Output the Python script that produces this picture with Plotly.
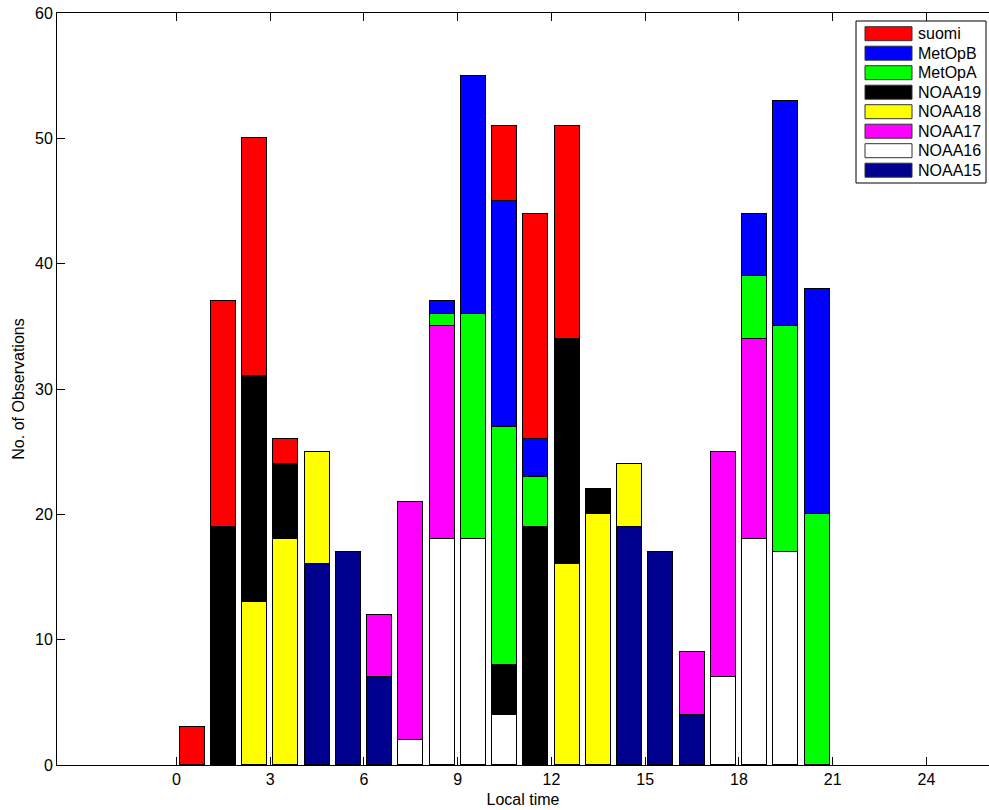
import plotly.graph_objects as go

# Local-time bin centres (hours)
local_time = [0.5, 1.5, 2.5, 3.5, 4.5, 5.5, 6.5, 7.5, 8.5, 9.5, 10.5,
              11.5, 12.5, 13.5, 14.5, 15.5, 16.5, 17.5, 18.5, 19.5, 20.5]

# Series (bottom of stack first)
noaa15 = [0, 0, 0, 0, 16, 17, 7, 0, 0, 0, 0, 0, 0, 0, 19, 17, 4, 0, 0, 0, 0]
noaa16 = [0, 0, 0, 0, 0, 0, 0, 2, 18, 18, 4, 0, 0, 0, 0, 0, 0, 7, 18, 17, 0]
noaa17 = [0, 0, 0, 0, 0, 0, 5, 19, 17, 0, 0, 0, 0, 0, 0, 0, 5, 18, 16, 0, 0]
noaa18 = [0, 0, 13, 18, 9, 0, 0, 0, 0, 0, 0, 0, 16, 20, 5, 0, 0, 0, 0, 0, 0]
noaa19 = [0, 19, 18, 6, 0, 0, 0, 0, 0, 0, 4, 19, 18, 2, 0, 0, 0, 0, 0, 0, 0]
metopa = [0, 0, 0, 0, 0, 0, 0, 0, 1, 18, 19, 4, 0, 0, 0, 0, 0, 0, 5, 18, 20]
metopb = [0, 0, 0, 0, 0, 0, 0, 0, 1, 19, 18, 3, 0, 0, 0, 0, 0, 0, 5, 18, 18]
suomi = [3, 18, 19, 2, 0, 0, 0, 0, 0, 0, 6, 18, 17, 0, 0, 0, 0, 0, 0, 0, 0]

series_names = ["NOAA15", "NOAA16", "NOAA17", "NOAA18", "NOAA19", "MetOpA", "MetOpB", "suomi"]
series_values = [noaa15, noaa16, noaa17, noaa18, noaa19, metopa, metopb, suomi]
series_colors = ["#00008F", "#FFFFFF", "#FF00FF", "#FFFF00", "#000000", "#00FF00", "#0000FF", "#FF0000"]

x_ticks = [0, 3, 6, 9, 12, 15, 18, 21, 24]
y_ticks = [0, 10, 20, 30, 40, 50, 60]

FONT = "Liberation Sans, Arial, Helvetica, sans-serif"
FS = 16
W, H = 989, 810
ML, MR, MT, MB = 57, 0, 13, 45

fig = go.Figure()
for name, vals, col in zip(series_names, series_values, series_colors):
    fig.add_trace(go.Bar(
        x=local_time,
        y=[v if v else None for v in vals],
        name=name,
        width=0.8,
        marker=dict(color=col, line=dict(color="black", width=1)),
        showlegend=False,
    ))

# Manual MATLAB-style legend (pixel -> paper helpers)
pw, ph = W - ML - MR, H - MT - MB
def px(xp):
    return (xp - ML) / pw
def py(yp):
    return 1 - (yp - MT) / ph

LX = 856
fig.add_shape(type="rect", xref="paper", yref="paper",
              x0=px(LX), x1=px(LX + 130), y0=py(183), y1=py(21),
              line=dict(color="black", width=1), fillcolor="white", layer="above")
row0, step = 33.7, 19.5
legend_order = list(range(len(series_names)))[::-1]
for i, k in enumerate(legend_order):
    cy = row0 + i * step
    fig.add_shape(type="rect", xref="paper", yref="paper",
                  x0=px(LX + 9), x1=px(LX + 56), y0=py(cy + 7), y1=py(cy - 7),
                  line=dict(color="#333333", width=1), fillcolor=series_colors[k], layer="above")
    fig.add_annotation(xref="paper", yref="paper", x=px(LX + 60), y=py(cy),
                       text=series_names[k], showarrow=False, xanchor="left", yanchor="middle",
                       font=dict(family=FONT, size=FS, color="black"))

fig.update_layout(
    width=W, height=H,
    barmode="stack",
    bargap=0,
    plot_bgcolor="white", paper_bgcolor="white",
    margin=dict(l=ML, r=MR, t=MT, b=MB, pad=0, autoexpand=False),
    font=dict(family=FONT, size=FS, color="black"),
    showlegend=False,
)
fig.update_xaxes(
    range=[-3.82, 26.0], tickvals=x_ticks, ticktext=[str(t) for t in x_ticks],
    ticks="inside", ticklen=8, tickcolor="black", tickwidth=1,
    showline=True, linecolor="black", linewidth=1, mirror="ticks",
    showgrid=False, zeroline=False, automargin=False,
    title=dict(text="Local time", font=dict(family=FONT, size=FS), standoff=6),
    tickfont=dict(family=FONT, size=FS),
)
fig.update_yaxes(
    range=[0, 60], tickvals=y_ticks, ticktext=[str(t) for t in y_ticks],
    ticks="inside", ticklen=8, tickcolor="black", tickwidth=1,
    showline=True, linecolor="black", linewidth=1, mirror=False,
    showgrid=False, zeroline=False, ticklabeloverflow="allow", automargin=False,
    title=dict(text="No. of Observations", font=dict(family=FONT, size=FS), standoff=6),
    tickfont=dict(family=FONT, size=FS),
)

fig.write_html(
    "out.html",
    config={"displayModeBar": False},
    post_script="document.body.style.margin='0';document.body.style.overflow='hidden';",
)
